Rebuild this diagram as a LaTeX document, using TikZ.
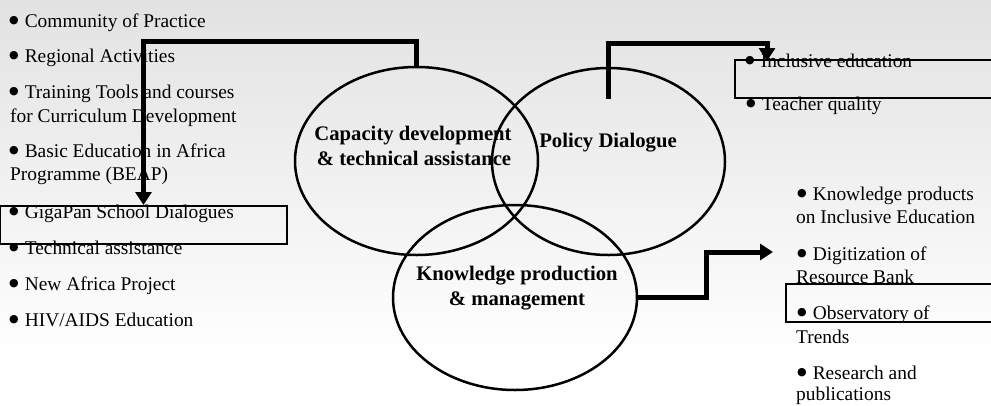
\documentclass[tikz,border=0pt]{standalone}
\usepackage{fontspec}
\setmainfont{Liberation Serif}
\newfontfamily\symf{DejaVu Sans}
\usetikzlibrary{arrows.meta,shapes.geometric}
\definecolor{bgtop}{HTML}{E2E2E2}
\newcommand{\bul}{\raisebox{3.2pt}{\symf\fontsize{11}{11}\selectfont ●}\hspace{6pt}}
\begin{document}
\begin{tikzpicture}[x=1pt,y=-1pt,
  item/.style={anchor=base west,inner sep=0pt,font=\fontsize{19.4}{24}\selectfont},
  lab/.style={anchor=base,inner sep=0pt,font=\fontsize{20.7}{25}\selectfont\bfseries},
  circ/.style={ellipse,draw,line width=2.5pt,inner sep=0pt},
  boxx/.style={draw,line width=2pt,inner sep=0pt},
  flow/.style={line width=5pt,-{Triangle[length=13pt,width=16pt]}}]
\useasboundingbox (0,0) rectangle (991,405);
\clip (0,0) rectangle (991,405);
\shade[top color=bgtop,bottom color=white] (0,0) rectangle (991,360);
\fill[white] (0,360) rectangle (991,405);

% boxes
\node[boxx,minimum width=287pt,minimum height=38pt] (lbox) at (143.5,225) {};
\node[boxx,minimum width=270pt,minimum height=38pt] (rbox1) at (870,79) {};
\node[boxx,minimum width=220pt,minimum height=38pt] (rbox2) at (896,303) {};

% left list
\node[item] (l1) at (9,27) {\bul Community of Practice};
\node[item] (l2) at (9,62) {\bul Regional Activities};
\node[item] (l3a) at (9,98) {\bul Training Tools and courses};
\node[item] (l3b) at (10,122) {for Curriculum Development};
\node[item] (l4a) at (9,157) {\bul Basic Education in Africa};
\node[item] (l4b) at (10,180) {Programme (BEAP)};
\node[item] (l5) at (9,218) {\bul GigaPan School Dialogues};
\node[item] (l6) at (9,254) {\bul Technical assistance};
\node[item] (l7) at (9,290) {\bul New Africa Project};
\node[item] (l8) at (9,326) {\bul HIV/AIDS Education};

% right top list
\node[item] (r1) at (745,67) {\bul Inclusive education};
\node[item] (r2) at (746,110) {\bul Teacher quality};

% right bottom list
\node[item] (k1a) at (797,200) {\bul Knowledge products};
\node[item] (k1b) at (796,223) {on Inclusive Education};
\node[item] (k2a) at (797,260) {\bul Digitization of};
\node[item] (k2b) at (796,283) {Resource Bank};
\node[item] (k3a) at (797,319) {\bul Observatory of};
\node[item] (k3b) at (796,343) {Trends};
\node[item] (k4a) at (797,379) {\bul Research and};
\node[item] (k4b) at (796,400) {publications};

% ellipses
\node[circ,minimum width=243pt,minimum height=188pt] (cap) at (416.5,161) {};
\node[circ,minimum width=233pt,minimum height=187pt] (pol) at (608.5,161.5) {};
\node[circ,minimum width=244pt,minimum height=185pt] (kno) at (515,297.5) {};

\node[lab] (capa) at (413,140) {Capacity development};
\node[lab] (capb) at (414,165) {\& technical assistance};
\node[lab] (pola) at (608,147) {Policy Dialogue};
\node[lab] (knoa) at (517,280) {Knowledge production};
\node[lab] (knob) at (517,305) {\& management};

% connectors
\coordinate (ps) at (608,99);
\coordinate (t1) at (767,61);
\coordinate (t2) at (773,252);
\draw[flow] (cap.north) -- ++(0,-24) -| (lbox.north);
\draw[flow] (ps) -- ++(0,-56) -| (t1);
\draw[flow] (kno.east) -- ++(68,0) |- (t2);
\end{tikzpicture}
\end{document}
